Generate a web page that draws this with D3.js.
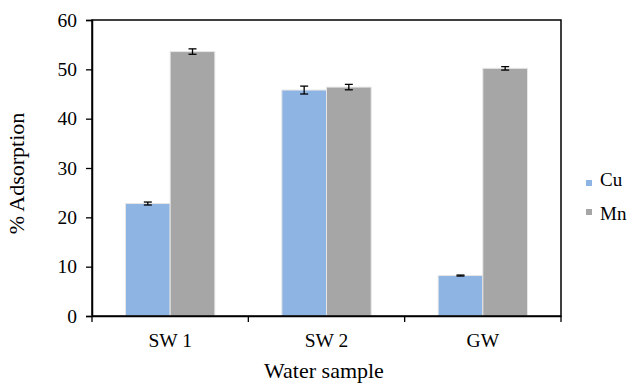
<!DOCTYPE html>
<html>
<head>
<meta charset="utf-8">
<script src="https://cdn.jsdelivr.net/npm/d3@7"></script>
<style>
  body { margin: 0; background: #fff; }
</style>
</head>
<body>
<div id="chart"></div>
<script>
var samples = ["SW 1", "SW 2", "GW"];
var metals = ["Cu", "Mn"];
var cuValues = [22.8, 45.8, 8.2];
var mnValues = [53.6, 46.4, 50.2];
var cuErrors = [0.3, 0.8, 0.1];
var mnErrors = [0.55, 0.55, 0.35];
var yTicks = [0, 10, 20, 30, 40, 50, 60];
var colors = ["#8EB4E3", "#A6A6A6"];

var fontFamily = "Liberation Serif";

// set the dimensions and margins of the graph
var margin = {top: 20, right: 69, bottom: 67, left: 92},
    fullWidth = 630, fullHeight = 383,
    width = fullWidth - margin.left - margin.right,
    height = fullHeight - margin.top - margin.bottom;

var svg = d3.select("#chart")
  .append("svg")
    .attr("width", fullWidth)
    .attr("height", fullHeight)
  .append("g")
    .attr("transform", "translate(" + margin.left + "," + margin.top + ")");

var x = d3.scaleBand()
  .domain(samples)
  .range([0, width]);

// Excel style gap width of 150%
var inner = x.bandwidth() / 3.5;
var x1 = d3.scaleBand()
  .domain(metals)
  .range([x.bandwidth() * 0.75 / 3.5, x.bandwidth() * 0.75 / 3.5 + inner * 2]);

var y = d3.scaleLinear()
  .domain([0, 60])
  .range([height, 0]);

var rows = samples.map(function(s, i) {
  return [
    {sample: s, metal: "Cu", value: cuValues[i], err: cuErrors[i]},
    {sample: s, metal: "Mn", value: mnValues[i], err: mnErrors[i]}
  ];
});
var flat = [].concat.apply([], rows);

// bars
svg.append("g")
  .selectAll("rect")
  .data(flat)
  .enter()
  .append("rect")
    .attr("x", d => x(d.sample) + x1(d.metal))
    .attr("y", d => y(d.value))
    .attr("width", x1.bandwidth())
    .attr("height", d => height - y(d.value))
    .style("fill", d => colors[metals.indexOf(d.metal)])
    .style("stroke", "#e6e6e6")
    .style("stroke-width", 1);

// error bars
var eg = svg.append("g")
  .selectAll("g")
  .data(flat)
  .enter()
  .append("g")
    .attr("transform", d => "translate(" + (x(d.sample) + x1(d.metal) + x1.bandwidth() / 2) + ",0)");
eg.append("line")
  .attr("y1", d => y(d.value + d.err))
  .attr("y2", d => y(d.value - d.err))
  .style("stroke", "#000").style("stroke-width", 1.3);
eg.append("line")
  .attr("x1", -4).attr("x2", 4)
  .attr("y1", d => y(d.value + d.err)).attr("y2", d => y(d.value + d.err))
  .style("stroke", "#000").style("stroke-width", 1.3);
eg.append("line")
  .attr("x1", -4).attr("x2", 4)
  .attr("y1", d => y(d.value - d.err)).attr("y2", d => y(d.value - d.err))
  .style("stroke", "#000").style("stroke-width", 1.3);

// box border
svg.append("rect")
  .attr("x", 0).attr("y", 0)
  .attr("width", width).attr("height", height)
  .style("fill", "none")
  .style("stroke", "#000")
  .style("stroke-width", 1.5);

// Y axis
var yAxis = svg.append("g")
  .call(d3.axisLeft(y).tickValues(yTicks).tickSize(6).tickPadding(9));
yAxis.select(".domain").style("stroke-width", 1.5);
yAxis.selectAll("line").style("stroke-width", 1.3);
yAxis.selectAll("text")
  .style("font-family", fontFamily)
  .style("font-size", "19.5px")
  .style("fill", "#000");

// X axis with ticks between categories
var xAxis = svg.append("g")
  .attr("transform", "translate(0," + height + ")")
  .call(d3.axisBottom(x).tickSize(0).tickPadding(17));
xAxis.select(".domain").style("stroke-width", 1.5);
xAxis.selectAll("text")
  .style("font-family", fontFamily)
  .style("font-size", "19.5px")
  .style("fill", "#000");
svg.append("g")
  .selectAll("line")
  .data(samples.concat(["end"]))
  .enter()
  .append("line")
    .attr("x1", (d, i) => i * x.step())
    .attr("x2", (d, i) => i * x.step())
    .attr("y1", height)
    .attr("y2", height + 6)
    .style("stroke", "#000")
    .style("stroke-width", 1.3);

// axis titles
svg.append("text")
  .attr("x", 232)
  .attr("y", height + 62)
  .attr("text-anchor", "middle")
  .style("font-family", fontFamily)
  .style("font-size", "22px")
  .text("Water sample");

svg.append("text")
  .attr("transform", "translate(" + (-68) + "," + 153.5 + ") rotate(-90)")
  .attr("text-anchor", "middle")
  .style("font-family", fontFamily)
  .style("font-size", "22px")
  .text("% Adsorption");

// legend (Excel puts the Mn swatch a little high)
var legendSquareY = [160, 189];
var legendTextY = [166, 200];
var legend = svg.append("g")
  .attr("transform", "translate(" + (width + 25) + ",0)")
  .selectAll("g")
  .data(metals)
  .enter()
  .append("g");
legend.append("rect")
  .attr("width", 6).attr("height", 6)
  .attr("y", (d, i) => legendSquareY[i])
  .style("fill", (d, i) => colors[i]);
legend.append("text")
  .attr("x", 14)
  .attr("y", (d, i) => legendTextY[i])
  .style("font-family", fontFamily)
  .style("font-size", "19px")
  .text(d => d);
</script>
</body>
</html>
